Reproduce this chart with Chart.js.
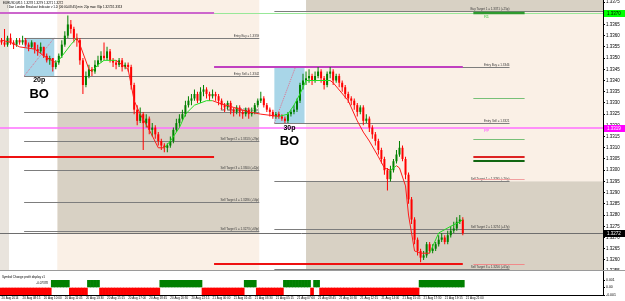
<!DOCTYPE html>
<html>
<head>
<meta charset="utf-8">
<script src="https://cdn.jsdelivr.net/npm/chart.js@4.4.1/dist/chart.umd.min.js"></script>
<style>
  html, body { margin: 0; padding: 0; background: #fff; }
  #wrap { position: relative; width: 625px; height: 301px; overflow: hidden; background: #fff; }
  #priceChart { position: absolute; left: 0; top: 0; }
  #sep { position: absolute; left: 0; top: 270px; width: 625px; height: 1px; background: #9a9a9a; }
  #profitChart { position: absolute; left: 0; top: 271px; }
</style>
</head>
<body>
<div id="wrap">
  <canvas id="priceChart" width="625" height="270"></canvas>
  <div id="sep"></div>
  <canvas id="profitChart" width="625" height="30"></canvas>
</div>
<script>
"use strict";

// EURUSD M15 candles, one per slot
var opens = [
  1.3358,1.3357,1.3356,1.3359,1.3357,1.3356,1.3358,1.3357,1.3358,1.3356,
  1.3355,1.3357,1.3354,1.3353,1.3355,1.3351,1.3349,1.3350,1.3346,1.3348,
  1.3351,1.3356,1.3360,1.3365,1.3363,1.3359,1.3358,1.3349,1.3338,1.3342,
  1.3345,1.3344,1.3347,1.3349,1.3351,1.3350,1.3353,1.3349,1.3348,1.3347,
  1.3349,1.3346,1.3347,1.3346,1.3338,1.3327,1.3322,1.3325,1.3321,1.3323,
  1.3318,1.3319,1.3316,1.3313,1.3311,1.3310,1.3311,1.3313,1.3318,1.3321,
  1.3323,1.3325,1.3329,1.3331,1.3332,1.3334,1.3331,1.3335,1.3336,1.3334,
  1.3333,1.3334,1.3333,1.3331,1.3329,1.3328,1.3330,1.3327,1.3326,1.3328,
  1.3326,1.3325,1.3327,1.3325,1.3326,1.3329,1.3331,1.3332,1.3329,1.3327,
  1.3326,1.3324,1.3325,1.3324,1.3323,1.3322,1.3325,1.3326,1.3327,1.3331,
  1.3338,1.3340,1.3341,1.3342,1.3340,1.3342,1.3344,1.3341,1.3338,1.3343,
  1.3344,1.3340,1.3342,1.3339,1.3337,1.3334,1.3332,1.3331,1.3329,1.3326,
  1.3328,1.3322,1.3323,1.3319,1.3316,1.3313,1.3309,1.3305,1.3300,1.3296,
  1.3300,1.3304,1.3307,1.3310,1.3305,1.3298,1.3287,1.3278,1.3269,1.3264,
  1.3261,1.3262,1.3267,1.3264,1.3265,1.3267,1.3269,1.3270,1.3268,1.3271,
  1.3273,1.3274,1.3277,1.3278
];
var highs = [
  1.3359,1.3363,1.3360,1.3361,1.3358,1.3359,1.3359,1.3360,1.3359,1.3357,
  1.3358,1.3357,1.3356,1.3357,1.3355,1.3352,1.3351,1.3350,1.3349,1.3352,
  1.3358,1.3362,1.3369,1.3367,1.3364,1.3361,1.3359,1.3350,1.3344,1.3347,
  1.3346,1.3349,1.3351,1.3353,1.3357,1.3355,1.3354,1.3350,1.3349,1.3350,
  1.3350,1.3348,1.3348,1.3347,1.3339,1.3329,1.3328,1.3326,1.3325,1.3324,
  1.3321,1.3320,1.3317,1.3314,1.3312,1.3312,1.3315,1.3319,1.3323,1.3325,
  1.3327,1.3331,1.3333,1.3334,1.3336,1.3335,1.3337,1.3338,1.3337,1.3335,
  1.3336,1.3335,1.3334,1.3332,1.3330,1.3331,1.3331,1.3328,1.3329,1.3329,
  1.3327,1.3328,1.3328,1.3328,1.3330,1.3332,1.3335,1.3333,1.3330,1.3328,
  1.3327,1.3326,1.3326,1.3325,1.3324,1.3326,1.3327,1.3329,1.3332,1.3339,
  1.3343,1.3344,1.3345,1.3343,1.3344,1.3346,1.3345,1.3342,1.3344,1.3346,
  1.3345,1.3343,1.3343,1.3340,1.3338,1.3335,1.3333,1.3332,1.3330,1.3329,
  1.3329,1.3325,1.3324,1.3320,1.3317,1.3314,1.3310,1.3306,1.3301,1.3302,
  1.3305,1.3309,1.3313,1.3311,1.3306,1.3299,1.3288,1.3279,1.3270,1.3265,
  1.3264,1.3268,1.3268,1.3267,1.3268,1.3271,1.3272,1.3271,1.3273,1.3275,
  1.3277,1.3279,1.3280,1.3279
];
var lows = [
  1.3356,1.3355,1.3355,1.3356,1.3354,1.3355,1.3356,1.3356,1.3355,1.3353,
  1.3354,1.3352,1.3351,1.3352,1.3350,1.3348,1.3347,1.3344,1.3345,1.3347,
  1.3350,1.3355,1.3359,1.3361,1.3357,1.3355,1.3347,1.3334,1.3337,1.3341,
  1.3342,1.3343,1.3346,1.3348,1.3349,1.3349,1.3348,1.3346,1.3345,1.3346,
  1.3344,1.3345,1.3344,1.3336,1.3325,1.3320,1.3321,1.3309,1.3319,1.3316,
  1.3315,1.3314,1.3311,1.3309,1.3308,1.3308,1.3310,1.3312,1.3317,1.3319,
  1.3322,1.3324,1.3328,1.3329,1.3331,1.3330,1.3330,1.3333,1.3332,1.3331,
  1.3332,1.3331,1.3329,1.3327,1.3326,1.3327,1.3325,1.3324,1.3325,1.3324,
  1.3323,1.3324,1.3323,1.3324,1.3325,1.3328,1.3330,1.3328,1.3326,1.3324,
  1.3323,1.3323,1.3323,1.3322,1.3321,1.3321,1.3324,1.3325,1.3326,1.3330,
  1.3336,1.3338,1.3339,1.3338,1.3339,1.3341,1.3339,1.3336,1.3337,1.3341,
  1.3338,1.3339,1.3337,1.3335,1.3332,1.3330,1.3329,1.3327,1.3324,1.3325,
  1.3320,1.3321,1.3317,1.3314,1.3311,1.3307,1.3303,1.3298,1.3291,1.3295,
  1.3299,1.3303,1.3306,1.3304,1.3296,1.3285,1.3276,1.3267,1.3262,1.3259,
  1.3260,1.3261,1.3263,1.3263,1.3264,1.3266,1.3268,1.3267,1.3267,1.3270,
  1.3272,1.3273,1.3276,1.3271
];
var closes = [
  1.3357,1.3356,1.3359,1.3357,1.3356,1.3358,1.3357,1.3358,1.3356,1.3355,
  1.3357,1.3354,1.3353,1.3355,1.3351,1.3349,1.3350,1.3346,1.3348,1.3351,
  1.3356,1.3360,1.3365,1.3363,1.3359,1.3358,1.3349,1.3338,1.3342,1.3345,
  1.3344,1.3347,1.3349,1.3351,1.3350,1.3353,1.3349,1.3348,1.3347,1.3349,
  1.3346,1.3347,1.3346,1.3338,1.3327,1.3322,1.3325,1.3321,1.3323,1.3318,
  1.3319,1.3316,1.3313,1.3311,1.3310,1.3311,1.3313,1.3318,1.3321,1.3323,
  1.3325,1.3329,1.3331,1.3332,1.3334,1.3331,1.3335,1.3336,1.3334,1.3333,
  1.3334,1.3333,1.3331,1.3329,1.3328,1.3330,1.3327,1.3326,1.3328,1.3326,
  1.3325,1.3327,1.3325,1.3326,1.3329,1.3331,1.3332,1.3329,1.3327,1.3326,
  1.3324,1.3325,1.3324,1.3323,1.3322,1.3325,1.3326,1.3327,1.3331,1.3338,
  1.3340,1.3341,1.3342,1.3340,1.3342,1.3344,1.3341,1.3338,1.3343,1.3344,
  1.3340,1.3342,1.3339,1.3337,1.3334,1.3332,1.3331,1.3329,1.3326,1.3328,
  1.3322,1.3323,1.3319,1.3316,1.3313,1.3309,1.3305,1.3300,1.3296,1.3300,
  1.3304,1.3307,1.3310,1.3305,1.3298,1.3287,1.3278,1.3269,1.3264,1.3261,
  1.3262,1.3267,1.3264,1.3265,1.3267,1.3269,1.3270,1.3268,1.3271,1.3273,
  1.3274,1.3277,1.3278,1.3272
];

// trend line (green rising, red falling)
var maSlots = [0,3,6,11,14,18,19,23,25,26,29,30,32,34,38,39,42,44,46,49,
  52,54,56,59,61,64,68,70,72,77,82,86,92,95,97,99,101,109,110,115,
  118,120,122,125,127,129,131,132,134,135,137,139,142,145,149,152,153];
var maPrices = [1.3358,1.3357,1.3355,1.3354,1.3351,1.3348,1.3349,1.3356,1.3359,1.3356,
  1.3345,1.3344,1.3347,1.3349,1.3349,1.3348,1.3345,1.3331,1.3325,1.3318,
  1.3310,1.3310,1.3313,1.3319,1.3325,1.3329,1.3331,1.3331,1.3330,1.3328,
  1.3326,1.3325,1.3324,1.3325,1.3329,1.3334,1.3340,1.3340,1.3339,1.3331,
  1.3322,1.3317,1.3313,1.3306,1.3301,1.3300,1.3302,1.3301,1.3293,1.3280,
  1.3264,1.3263,1.3263,1.3272,1.3275,1.3277,1.3278];

// profit display indicator: +1 profit, -1 loss
var profitSign = [
  -1,-1,-1,-1,-1,-1,-1,-1,-1,-1,
  -1,-1,-1,-1,-1,-1,-1, 1, 1, 1,
   1, 1, 1,-1,-1,-1,-1,-1,-1, 1,
   1, 1, 1,-1,-1,-1,-1,-1,-1,-1,
  -1,-1,-1,-1,-1,-1,-1,-1,-1,-1,
  -1,-1,-1, 1, 1, 1, 1, 1, 1, 1,
   1, 1, 1, 1, 1, 1, 1,-1,-1,-1,
  -1,-1,-1,-1,-1,-1,-1,-1,-1,-1,
  -1, 1, 1, 1, 1,-1,-1,-1,-1,-1,
  -1,-1,-1,-1, 1, 1, 1, 1, 1, 1,
   1, 1, 1,-1, 1, 1,-1,-1,-1,-1,
  -1,-1,-1,-1,-1,-1,-1,-1,-1,-1,
  -1,-1,-1,-1,-1,-1,-1,-1,-1,-1,
  -1,-1,-1,-1,-1,-1,-1,-1,-1, 1,
   1, 1, 1, 1, 1, 1, 1, 1, 1, 1,
   1, 1, 1, 1
];

var priceTicks = [1.3375,1.3370,1.3365,1.3360,1.3355,1.3350,1.3345,1.3340,1.3335,1.3330,
  1.3325,1.3320,1.3315,1.3310,1.3305,1.3300,1.3295,1.3290,1.3285,1.3280,
  1.3275,1.3270,1.3265,1.3260,1.3255];
var xTickSlots = [0,7,14,21,28,35,42,49,56,63,70,77,84,91,98,105,112,119,126,133,140,147,154];
var xTickLabels = ['20 Aug 2014','20 Aug 08:15','20 Aug 10:00','20 Aug 11:45','20 Aug 13:30',
  '20 Aug 15:15','20 Aug 17:00','20 Aug 18:45','20 Aug 20:30','20 Aug 22:15','21 Aug 00:00',
  '21 Aug 01:45','21 Aug 03:30','21 Aug 05:15','21 Aug 07:00','21 Aug 08:45','21 Aug 10:30',
  '21 Aug 12:15','21 Aug 14:00','21 Aug 15:45','21 Aug 17:30','21 Aug 19:15','21 Aug 21:00'];

// sessions (slot ranges), breakout boxes and their levels
var edgeRange = [-0.5, 2.5];
var sessionRanges = [[2.5, 18.5], [85.5, 101]];
var boxFrom = [7.5, 90.5];
var boxTo = [17.5, 100.5];
var boxHigh = [1.3359, 1.3346];
var boxLow = [1.3342, 1.3321];
var boxDiagTop = [17.5, 97.5];
var boxPips = ['20p', '30p'];
var zoneFrom = [18.5, 101, 101];
var zoneTo = [85.5, 199.5, 199.5];
var zoneTop = [1.3326, 1.3380, 1.3295];
var zoneBottom = [1.3272, 1.3371, 1.3250];

var dayOneLevels = [1.3359, 1.3342, 1.3326, 1.3313, 1.3300, 1.3286, 1.3273];
var dayOneLabels = ['Entry Buy = 1.3359', 'Entry Sell = 1.3342', 'Sell Target 1 = 1.3326 (+16p)',
  'Sell Target 2 = 1.3313 (+29p)', 'Sell Target 3 = 1.3300 (+42p)', 'Sell Target 4 = 1.3286 (+56p)',
  'Sell Target 5 = 1.3273 (+69p)'];
var dayOneSpan = [7.5, 85.5];
var dayTwoLevels = [1.3371, 1.3346, 1.3321, 1.3295, 1.3274, 1.3256];
var dayTwoLabels = ['Buy Target 1 = 1.3371 (+25p)', 'Entry Buy = 1.3346', 'Entry Sell = 1.3321',
  'Sell Target 1 = 1.3295 (+26p)', 'Sell Target 2 = 1.3274 (+47p)', 'Sell Target 3 = 1.3256 (+65p)'];
var dayTwoSpan = [90.5, 168.5];
var dayTwoEnds = [199.5, 168.5, 168.5, 168.5, 168.5, 168.5];

var dayStarts = [-0.5, 70.5];
var dayEnds = [70.5, 153];
var prevHighs = [1.3370, 1.3346];
var prevLows = [1.3306, 1.3258];
var pivotLevels = [1.3370, 1.3332, 1.3314, 1.3306, 1.3304, 1.3296, 1.3258];
var pivotSpan = [156.5, 173.5];
var resistLine = 1.3370;
var pivotLine = 1.3319;
var lastPrice = 1.3272;

var headerLines = ['EURUSD,M15  1.3278 1.3279 1.3271 1.3272',
  '\\ Dan London Breakout Indicator v 1.2i [06:00-08:45] min: 20p max: 80p 1.3272/1.3313'];

// styles
var BULL = '#008000', BEAR = '#ff0000';
var MA_UP = '#22dd22', MA_DOWN = '#ff1a1a';
var BG = '#faf0e6', ZONE = '#d8d1c4', EDGE = '#e9e4dd', BOX = '#a9d6e8';
var LEVEL = '#7d7d7d', LABEL = '#3a3a3a';
var TINY = '3px "Liberation Sans"';
var pivotColors = ['#2e9a2e', '#77c077', '#77c077', '#dd2222', '#116611', '#f2a0a0', '#f08a8a'];
var pivotWidths = [2.5, 1, 1, 2, 2, 1, 1];

var candleColor = function (ctx) {
  return closes[ctx.dataIndex] >= opens[ctx.dataIndex] ? BULL : BEAR;
};
var maColor = function (ctx) {
  var i = ctx.p0DataIndex;
  while (i >= 0) {
    var d = maPrices[i + 1] - maPrices[i];
    if (d > 0) return MA_UP;
    if (d < 0) return MA_DOWN;
    i--;
  }
  return MA_DOWN;
};

var mtObjects = {
  id: 'mtObjects',
  beforeDatasetsDraw: function (chart) {
    var ctx = chart.ctx, a = chart.chartArea;
    var xs = chart.scales.x, ys = chart.scales.y;
    var X = function (v) { return xs.getPixelForValue(v); };
    var Y = function (v) { return ys.getPixelForValue(v); };
    var band = function (s0, s1, hi, lo, color) {
      ctx.fillStyle = color;
      ctx.fillRect(X(s0), Y(hi), X(s1) - X(s0), Y(lo) - Y(hi));
    };
    var hline = function (s0, s1, p, color, w) {
      var yy = Math.round(Y(p)) + (w % 2 === 1 ? 0.5 : 0);
      ctx.strokeStyle = color;
      ctx.lineWidth = w;
      ctx.beginPath();
      ctx.moveTo(X(s0), yy);
      ctx.lineTo(X(s1), yy);
      ctx.stroke();
    };
    var label = function (str, s, p) {
      ctx.fillStyle = LABEL;
      ctx.font = TINY;
      ctx.textAlign = 'right';
      ctx.textBaseline = 'bottom';
      ctx.fillText(str, X(s), Math.round(Y(p)) - 0.5);
    };

    ctx.save();
    ctx.beginPath();
    ctx.rect(a.left, a.top, a.width, a.height);
    ctx.clip();
    ctx.fillStyle = BG;
    ctx.fillRect(a.left, a.top, a.width, a.height);
    band(edgeRange[0], edgeRange[1], ys.max, ys.min, EDGE);

    for (var z = 0; z < zoneFrom.length; z++) {
      band(zoneFrom[z], zoneTo[z], zoneTop[z], zoneBottom[z], ZONE);
    }
    sessionRanges.forEach(function (r) { band(r[0], r[1], ys.max, ys.min, '#ffffff'); });
    for (var b = 0; b < boxFrom.length; b++) {
      band(boxFrom[b], boxTo[b], boxHigh[b], boxLow[b], BOX);
      ctx.strokeStyle = '#e0708c';
      ctx.lineWidth = 1;
      ctx.setLineDash([1, 1]);
      ctx.beginPath();
      ctx.moveTo(X(boxFrom[b]), Y(boxLow[b]));
      ctx.lineTo(X(boxDiagTop[b]), Y(boxHigh[b]));
      ctx.stroke();
      ctx.setLineDash([]);
    }

    hline(70.5, 199.5, resistLine, '#98e898', 1);
    hline(-0.5, 199.5, pivotLine, '#ff70ff', 1.5);
    hline(-0.5, 199.5, lastPrice, '#6e6e6e', 1);

    dayOneLevels.forEach(function (p, i) {
      hline(dayOneSpan[0], dayOneSpan[1], p, LEVEL, 1);
      label(dayOneLabels[i], dayOneSpan[1], p);
    });
    dayTwoLevels.forEach(function (p, i) {
      hline(dayTwoSpan[0], dayTwoEnds[i], p, LEVEL, 1);
    });
    for (var d = 0; d < dayStarts.length; d++) {
      hline(dayStarts[d], dayEnds[d], prevHighs[d], d === 0 ? '#cc66cc' : '#c040c0', 2);
      hline(dayStarts[d], dayEnds[d], prevLows[d], '#ee1111', 2);
    }
    dayTwoLevels.forEach(function (p, i) {
      label(dayTwoLabels[i], dayTwoSpan[1], p);
    });
    pivotLevels.forEach(function (p, i) {
      hline(pivotSpan[0], pivotSpan[1], p, pivotColors[i], pivotWidths[i]);
    });
    ctx.font = '4px "Liberation Sans"';
    ctx.textAlign = 'left';
    ctx.textBaseline = 'top';
    ctx.fillStyle = '#33cc33';
    ctx.fillText('R1', X(160), Y(resistLine) + 1.5);
    ctx.fillStyle = '#ff44ff';
    ctx.fillText('PP', X(160), Y(pivotLine) + 1.5);
    ctx.restore();
  },
  afterDatasetsDraw: function (chart) {
    var ctx = chart.ctx;
    var xs = chart.scales.x, ys = chart.scales.y;
    ctx.save();
    ctx.fillStyle = '#000';
    ctx.textAlign = 'center';
    ctx.textBaseline = 'top';
    for (var b = 0; b < boxFrom.length; b++) {
      var cx = xs.getPixelForValue((boxFrom[b] + boxTo[b]) / 2);
      var by = ys.getPixelForValue(boxLow[b]);
      ctx.font = 'bold 7px "Liberation Sans"';
      ctx.fillText(boxPips[b], cx, by + 1);
      ctx.font = 'bold 13px "Liberation Sans"';
      ctx.fillText('BO', cx, by + 12);
    }
    ctx.font = TINY;
    ctx.textAlign = 'left';
    ctx.fillStyle = '#000';
    ctx.fillText(headerLines[0], 3, 1.5);
    ctx.fillText(headerLines[1], 7, 5.5);
    ctx.restore();
  },
  afterDraw: function (chart) {
    var ctx = chart.ctx, a = chart.chartArea, ys = chart.scales.y;
    var tags = [[resistLine, '#00ff00', '#000'], [pivotLine, '#ff00ff', '#fff'], [lastPrice, '#000', '#fff']];
    ctx.save();
    ctx.strokeStyle = '#000';
    ctx.lineWidth = 1;
    ctx.beginPath();
    ctx.moveTo(a.right + 0.5, a.top);
    ctx.lineTo(a.right + 0.5, a.bottom);
    ctx.stroke();
    ctx.font = '4.5px "Liberation Sans"';
    ctx.textBaseline = 'middle';
    ctx.textAlign = 'left';
    tags.forEach(function (t) {
      var yy = Math.round(ys.getPixelForValue(t[0]));
      ctx.fillStyle = t[1];
      ctx.fillRect(a.right + 1, yy - 3, 21, 7);
      ctx.fillStyle = t[2];
      ctx.fillText(t[0].toFixed(4), a.right + 4, yy + 0.5);
    });
    ctx.restore();
  }
};

var priceChart = new Chart(document.getElementById('priceChart'), {
  type: 'bar',
  data: {
    datasets: [
      {
        type: 'line',
        data: maSlots.map(function (s, i) { return { x: s, y: maPrices[i] }; }),
        borderWidth: 1,
        pointRadius: 0,
        tension: 0,
        segment: { borderColor: maColor },
        order: 0
      },
      {
        data: opens.map(function (o, i) { return { x: i, y: [o, closes[i]] }; }),
        backgroundColor: candleColor,
        barThickness: 2,
        minBarLength: 1,
        inflateAmount: 0,
        grouped: false,
        order: 1
      },
      {
        data: lows.map(function (l, i) { return { x: i, y: [l, highs[i]] }; }),
        backgroundColor: candleColor,
        barThickness: 1,
        inflateAmount: 0,
        grouped: false,
        order: 2
      }
    ]
  },
  options: {
    responsive: false,
    animation: false,
    events: [],
    layout: { padding: 0 },
    plugins: { legend: { display: false }, tooltip: { enabled: false } },
    scales: {
      x: { type: 'linear', min: -0.5, max: 199.5, offset: false, display: false },
      y: {
        position: 'right',
        min: 1.32555,
        max: 1.33759,
        afterBuildTicks: function (s) { s.ticks = priceTicks.map(function (v) { return { value: v }; }); },
        afterFit: function (s) { s.width = 22; s.paddingTop = 0; s.paddingBottom = 0; },
        grid: { drawOnChartArea: false, tickLength: 2, color: '#000' },
        border: { display: false },
        ticks: {
          autoSkip: false,
          padding: 1,
          color: '#000',
          font: { size: 4.5, family: 'Liberation Sans' },
          callback: function (v) { return v.toFixed(4); }
        }
      }
    }
  },
  plugins: [mtObjects]
});

var panelText = {
  id: 'panelText',
  beforeDatasetsDraw: function (chart) {
    var ctx = chart.ctx, a = chart.chartArea;
    ctx.save();
    ctx.fillStyle = '#000';
    ctx.font = TINY;
    ctx.textBaseline = 'middle';
    ctx.textAlign = 'left';
    ctx.fillText('Symbol Change profit display v1', 2, 6);
    ctx.textAlign = 'right';
    ctx.fillText('-0.07378', 48, a.top + 3);
    ctx.strokeStyle = '#000';
    ctx.lineWidth = 1;
    ctx.beginPath();
    ctx.moveTo(a.right + 0.5, 0);
    ctx.lineTo(a.right + 0.5, a.bottom);
    ctx.stroke();
    ctx.restore();
  }
};

var profitChart = new Chart(document.getElementById('profitChart'), {
  type: 'bar',
  data: {
    datasets: [{
      data: profitSign.map(function (v, i) { return { x: i, y: v }; }),
      backgroundColor: function (ctx) { return profitSign[ctx.dataIndex] > 0 ? BULL : BEAR; },
      barPercentage: 1,
      categoryPercentage: 1,
      borderWidth: 0
    }]
  },
  options: {
    responsive: false,
    animation: false,
    events: [],
    layout: { padding: { top: 9, left: 0, right: 0, bottom: 0 } },
    plugins: { legend: { display: false }, tooltip: { enabled: false } },
    scales: {
      x: {
        type: 'linear', min: -0.5, max: 199.5, offset: false,
        afterBuildTicks: function (s) { s.ticks = xTickSlots.map(function (v) { return { value: v }; }); },
        afterFit: function (s) { s.height = 6; s.paddingLeft = 0; s.paddingRight = 0; },
        grid: { drawOnChartArea: false, tickLength: 1, color: '#000' },
        border: { color: '#000' },
        ticks: {
          autoSkip: false, maxRotation: 0, minRotation: 0, align: 'start', padding: 0,
          color: '#000', font: { size: 3, family: 'Liberation Sans' },
          callback: function (v, i) { return xTickLabels[i]; }
        }
      },
      y: {
        position: 'right', min: -1, max: 1,
        afterBuildTicks: function (s) { s.ticks = [1, 0, -1].map(function (v) { return { value: v }; }); },
        afterFit: function (s) { s.width = 22; s.paddingTop = 0; s.paddingBottom = 0; },
        grid: { drawOnChartArea: false, tickLength: 2, color: '#000' },
        border: { display: false },
        ticks: {
          autoSkip: false, padding: 1, color: '#000',
          font: { size: 3.5, family: 'Liberation Sans' },
          callback: function (v) { return v > 0 ? '0.001' : (v < 0 ? '-0.001' : '0.00'); }
        }
      }
    }
  },
  plugins: [panelText]
});
</script>
</body>
</html>
